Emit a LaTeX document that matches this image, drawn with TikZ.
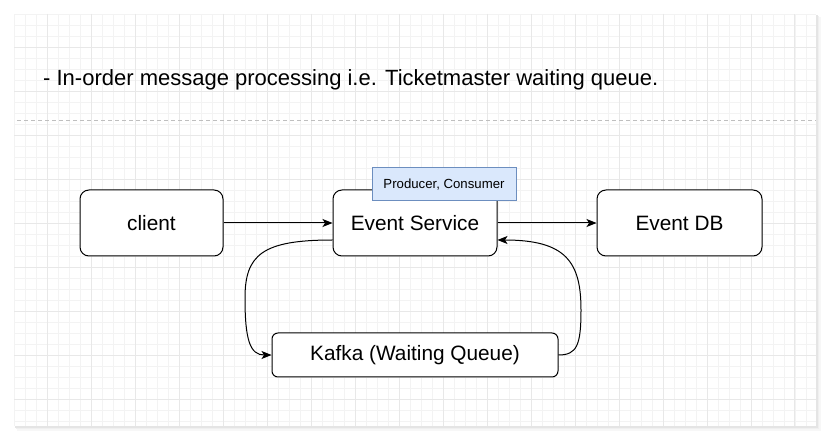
\documentclass[tikz,border=0pt]{standalone}
\usepackage{fontspec}
\setmainfont{Liberation Sans}
\usetikzlibrary{arrows.meta,calc}
\definecolor{gridminor}{HTML}{F3F3F3}
\definecolor{gridmajor}{HTML}{E8E8E8}
\definecolor{notefill}{HTML}{DAE8FC}
\definecolor{notedraw}{HTML}{6C8EBF}
\tikzset{
  box/.style={draw=black, line width=1pt, rounded corners=9pt, fill=white, inner sep=0pt, font=\fontsize{20.8}{24}\selectfont},
  note/.style={draw=notedraw, line width=1pt, fill=notefill, inner sep=0pt, font=\fontsize{13.2}{15}\selectfont},
  conn/.style={line width=1pt, -{Stealth[length=10pt,width=8pt,inset=2.5pt]}}
}
\begin{document}
\begin{tikzpicture}[x=1pt,y=-1pt]
\useasboundingbox (0,0) rectangle (833,443);
% shadow
\fill[black!3] (17,17) rectangle (821,431);
\fill[black!6] (16,16) rectangle (819,429);
\fill[black!10] (15,15) rectangle (818,428);
% panel
\fill[white] (14,14) rectangle (816,426);
\begin{scope}
\clip (14,14) rectangle (816,426);
\foreach \i in {0,...,74} {
  \draw[gridminor, line width=0.7pt] ({3.7+10.99*\i},14) -- ({3.7+10.99*\i},426);
}
\foreach \i in {0,...,40} {
  \draw[gridminor, line width=0.7pt] (14,{3.7+10.99*\i}) -- (816,{3.7+10.99*\i});
}
\foreach \i in {0,...,19} {
  \draw[gridmajor, line width=0.7pt] ({3.7+43.95*\i},14) -- ({3.7+43.95*\i},426);
}
\foreach \i in {0,...,10} {
  \draw[gridmajor, line width=0.7pt] (14,{3.7+43.95*\i}) -- (816,{3.7+43.95*\i});
}
\end{scope}
% heading
\node[anchor=base west, inner sep=0pt, font=\fontsize{22}{26}\selectfont] (title) at (43,86) {- In-order message processing i.e. Ticketmaster waiting queue.};
% dashed separator
\coordinate (sepL) at (17,121);
\coordinate (sepR) at (816,121);
\draw[black!25, line width=1pt, dash pattern=on 4pt off 3pt] (sepL) -- (sepR);
% nodes
\node[box, minimum width=143pt, minimum height=66pt] (client) at (151.5,223) {client};
\node[box, minimum width=164pt, minimum height=66pt] (es) at (415,223) {Event Service};
\node[box, minimum width=165pt, minimum height=66pt] (db) at (679.5,223) {Event DB};
\node[box, rounded corners=6pt, minimum width=286pt, minimum height=44pt] (kafka) at (415,355) {Kafka (Waiting Queue)};
\node[note, minimum width=144pt, minimum height=33pt] (pc) at (444,184.5) {Producer, Consumer};
% connectors
\draw[conn] (client.east) -- (es.west);
\draw[conn] (es.east) -- (db.west);
\draw[conn] ([yshift=-17pt]es.west) .. controls (262,240) and (245,255) .. (245,298)
   .. controls (245,340) and (250,355) .. (kafka.west);
\draw[conn] (kafka.east) .. controls (577,355) and (581,345) .. (581,310)
   .. controls (581,262) and (566,240) .. ([yshift=-17pt]es.east);
\end{tikzpicture}
\end{document}
